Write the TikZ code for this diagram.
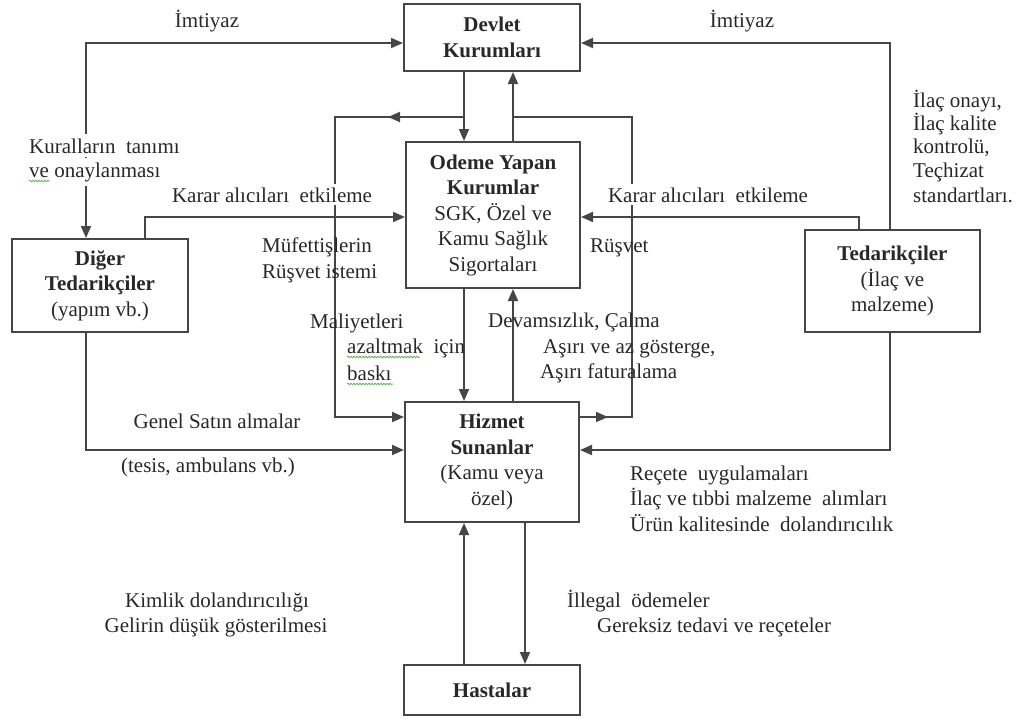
\documentclass[tikz,border=0pt]{standalone}
\usepackage{fontspec}
\setmainfont{Liberation Serif}
\usetikzlibrary{arrows.meta,decorations.pathmorphing}
\definecolor{ink}{RGB}{40,40,40}
\definecolor{linec}{RGB}{70,70,70}
\definecolor{spell}{RGB}{110,180,100}
\begin{document}
\begin{tikzpicture}[x=1pt,y=-1pt,
  box/.style={draw=linec, line width=2pt, fill=white, align=center, inner sep=0pt,
              font=\fontsize{21}{25.5}\selectfont, text=ink},
  lbl/.style={font=\fontsize{21}{25}\selectfont, text=ink, inner sep=0pt},
  conn/.style={draw=linec, line width=1.8pt},
  tip/.style={-{Triangle[length=12pt,width=10pt]}},
  arr/.style={conn, tip},
  wavy/.style={draw=spell, line width=0.9pt, decorate,
               decoration={snake, amplitude=0.8pt, segment length=3pt}}
]
\fill[white] (0,0) rectangle (1026,718);
\useasboundingbox (0,0) rectangle (1026,718);

% boxes
\node[box, minimum width=176pt, minimum height=67pt] (dev) at (492,37.5)
  {\textbf{Devlet}\\\textbf{Kurumları}};
\node[box, minimum width=174pt, minimum height=146pt] (ode) at (493,215)
  {\textbf{Odeme Yapan}\\\textbf{Kurumlar}\\SGK, Özel ve\\Kamu Sağlık\\Sigortaları};
\node[box, minimum width=176pt, minimum height=93pt] (dig) at (100,285.5)
  {\textbf{Diğer}\\\textbf{Tedarikçiler}\\(yapım vb.)};
\node[box, minimum width=175pt, minimum height=102pt] (ted) at (892.5,281)
  {\textbf{Tedarikçiler}\\(İlaç ve\\malzeme)};
\node[box, minimum width=174pt, minimum height=120pt] (hiz) at (492,462)
  {\textbf{Hizmet}\\\textbf{Sunanlar}\\(Kamu veya\\özel)};
\node[box, minimum width=176pt, minimum height=50pt] (has) at (492,690)
  {\textbf{Hastalar}};

% helper coordinates
\coordinate (xa) at (86,0);
\coordinate (xb) at (145,0);
\coordinate (xc) at (335,0);
\coordinate (xd) at (464,0);
\coordinate (xe) at (513,0);
\coordinate (xf) at (632,0);
\coordinate (xg) at (859,0);
\coordinate (xh) at (890,0);
\coordinate (xj) at (525,0);
\coordinate (ya) at (0,43);
\coordinate (yb) at (0,117);
\coordinate (yc) at (0,217);
\coordinate (yd) at (0,417);
\coordinate (ye) at (0,450);
\coordinate (m1) at (388,117);
\coordinate (m2) at (608,417);

% connectors
\draw[conn, {Triangle[length=12pt,width=10pt]}-{Triangle[length=12pt,width=10pt]}]
  (dig.north -| xa) |- (dev.west |- ya);
\draw[arr] (ted.north -| xh) |- (dev.east |- ya);
\draw[arr] (dig.north -| xb) |- (ode.west |- yc);
\draw[arr] (ted.north -| xg) |- (ode.east |- yc);
\draw[arr] (dev.south -| xd) -- (ode.north -| xd);
\draw[arr] (ode.north -| xe) -- (dev.south -| xe);
\draw[arr] (xd |- yb) -| (xc |- yd) -- (hiz.west |- yd);
\draw[arr] (xd |- yb) -- (m1);
\draw[conn] (hiz.east |- yd) -| (xf |- yb) -- (xe |- yb);
\draw[arr] (hiz.east |- yd) -- (m2);
\draw[arr] (ode.south -| xd) -- (hiz.north -| xd);
\draw[arr] (hiz.north -| xe) -- (ode.south -| xe);
\draw[arr] (dig.south -| xa) |- (hiz.west |- ye);
\draw[arr] (ted.south -| xh) |- (hiz.east |- ye);
\draw[arr] (has.north -| xd) -- (hiz.south -| xd);
\draw[arr] (hiz.south -| xj) -- (has.north -| xj);

% labels
\node[lbl, anchor=base] (l1) at (207,27) {İmtiyaz};
\node[lbl, anchor=base] (l2) at (742,27) {İmtiyaz};
\node[lbl, anchor=base west, fill=white, inner ysep=4pt] (l3) at (29,153) {Kuralların\ \ tanımı};
\node[lbl, anchor=base west, fill=white, inner ysep=4pt] (l4) at (29,177) {ve onaylanması};
\node[lbl, anchor=base, fill=white, inner sep=3pt] (l5) at (272,202) {Karar alıcıları\ \ etkileme};
\node[lbl, anchor=base, fill=white, inner sep=3pt] (l6) at (708,202) {Karar alıcıları\ \ etkileme};
\node[lbl, anchor=base west] (l7) at (913,107) {İlaç onayı,};
\node[lbl, anchor=base west] (l8) at (913,130) {İlaç kalite};
\node[lbl, anchor=base west] (l9) at (913,153) {kontrolü,};
\node[lbl, anchor=base west] (l10) at (913,177) {Teçhizat};
\node[lbl, anchor=base west] (l11) at (913,202) {standartları.};
\node[lbl, anchor=base west] (l12) at (262,252) {Müfettişlerin};
\node[lbl, anchor=base west] (l13) at (262,278) {Rüşvet istemi};
\node[lbl, anchor=base west] (l14) at (590,252) {Rüşvet};
\node[lbl, anchor=base west] (l15) at (310,328) {Maliyetleri};
\node[lbl, anchor=base west] (l16) at (347,353) {azaltmak\ \ için};
\node[lbl, anchor=base west] (l17) at (347,380) {baskı};
\node[lbl, anchor=base west] (l18) at (488,327) {Devamsızlık, Çalma};
\node[lbl, anchor=base west] (l19) at (543,353) {Aşırı ve az gösterge,};
\node[lbl, anchor=base west] (l20) at (540,378) {Aşırı faturalama};
\node[lbl, anchor=base] (l21) at (217,428) {Genel Satın almalar};
\node[lbl, anchor=base] (l22) at (208,472) {(tesis, ambulans vb.)};
\node[lbl, anchor=base west] (l23) at (630,480) {Reçete\ \ uygulamaları};
\node[lbl, anchor=base west] (l24) at (630,505) {İlaç ve tıbbi malzeme\ \ alımları};
\node[lbl, anchor=base west] (l25) at (630,531) {Ürün kalitesinde\ \ dolandırıcılık};
\node[lbl, anchor=base] (l26) at (217,607) {Kimlik dolandırıcılığı};
\node[lbl, anchor=base] (l27) at (216,632) {Gelirin düşük gösterilmesi};
\node[lbl, anchor=base west] (l28) at (567,607) {İllegal\ \ ödemeler};
\node[lbl, anchor=base west] (l29) at (597,632) {Gereksiz tedavi ve reçeteler};

% spell-check underlines
\draw[wavy] (29,181) -- (50,181);
\draw[wavy] (347,357) -- (420,357);
\draw[wavy] (347,384) -- (393,384);
\end{tikzpicture}
\end{document}
